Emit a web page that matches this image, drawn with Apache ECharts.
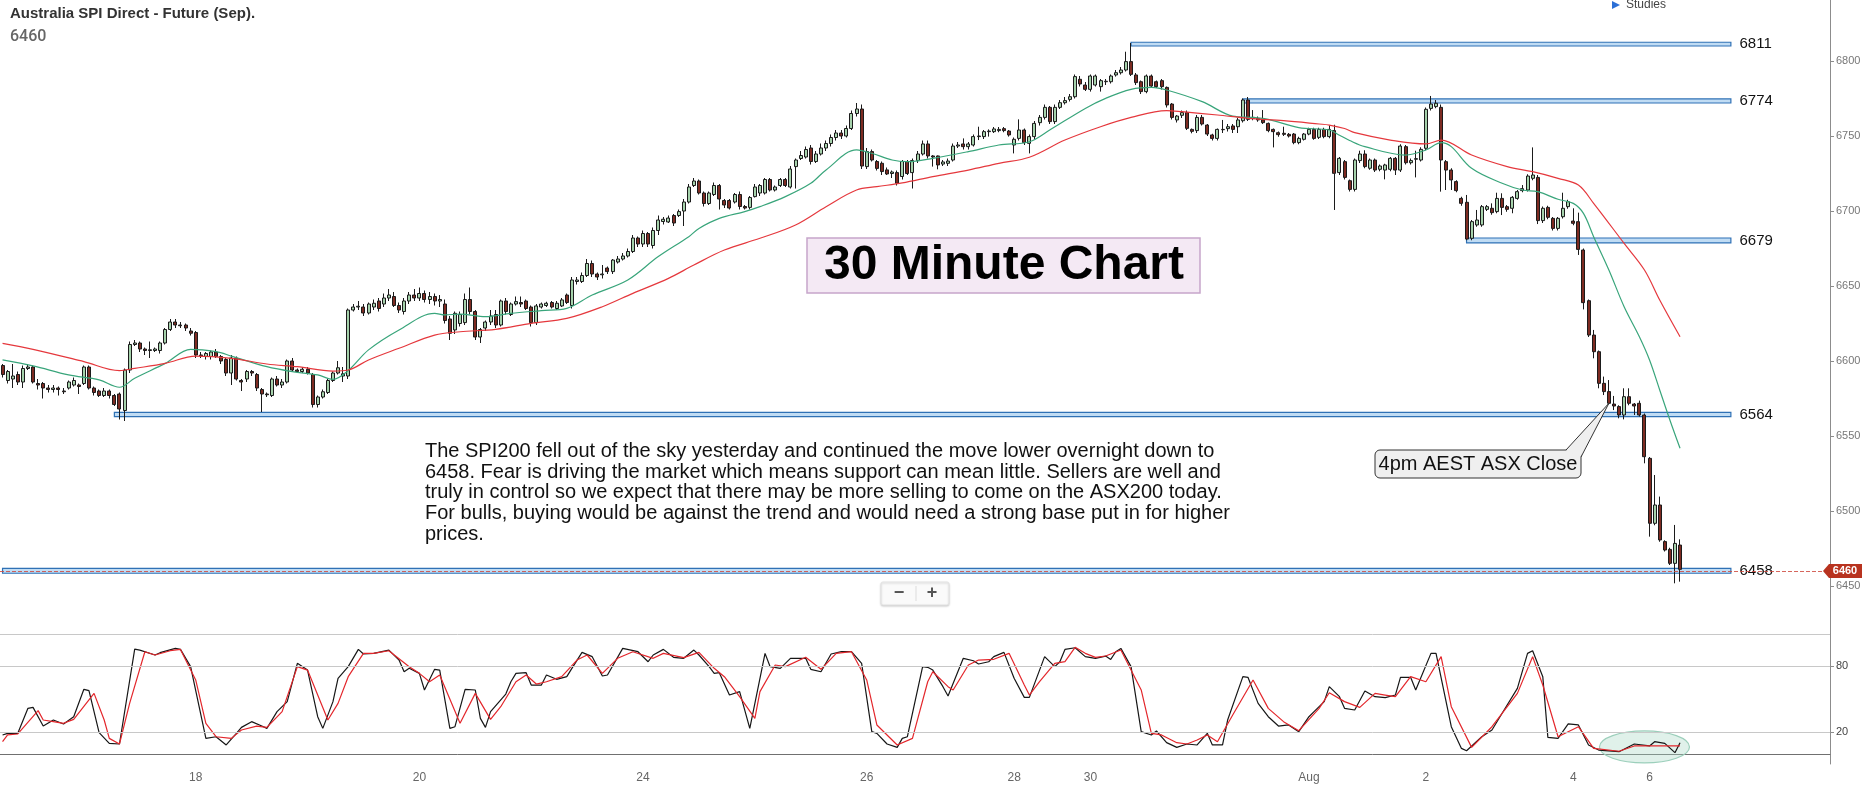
<!DOCTYPE html>
<html>
<head>
<meta charset="utf-8">
<title>Australia SPI Direct - Future (Sep). 30 Minute Chart</title>
<script src="https://cdn.jsdelivr.net/npm/echarts@6/dist/echarts.min.js"></script>
<style>
  html, body { margin: 0; padding: 0; background: #fff; }
  #chart { width: 1875px; height: 793px; }
</style>
</head>
<body>
<div id="chart"></div>
<script>
'use strict'

// 30 minute bars, [open, close, low, high]
const candles = [
  [6597,6591,6589,6598],[6587,6593,6585,6594],[6588,6590,6582,6598],[6591,6586,6584,6593],[6586,6595,6582,6597],
  [6595,6596,6594,6598],[6596,6586,6585,6597],[6585,6584,6581,6588],[6585,6582,6575,6586],[6582,6581,6579,6584],
  [6581,6582,6579,6584],[6582,6581,6577,6583],[6580,6579.5,6578,6582],[6582,6586,6581,6587],[6584,6587,6583,6589],
  [6584,6583,6578,6585],[6585,6596,6584,6597],[6596,6582,6581,6597],[6582,6579,6577,6583],[6580,6577,6576,6581],
  [6577,6580,6576,6582],[6580,6577,6575,6581],[6577,6571,6570,6578],[6578,6568,6561,6579],[6567,6594,6560,6595],
  [6594,6611,6592,6613],[6611,6612,6610,6614],[6612,6608,6606,6613],[6608,6607,6604,6609],[6607,6607.5,6602,6613],
  [6607,6608,6606,6609],[6607,6612,6605,6613],[6612,6621,6611,6622],[6621,6626,6620,6628],[6626,6624,6622,6628],
  [6624,6623.5,6622,6626],[6624,6622,6620,6625],[6620,6618.5,6617,6622],[6619,6604,6602,6620],[6604,6603.5,6602,6606],
  [6603,6605,6601,6606],[6603,6606,6601,6607],[6606,6603,6602,6608],[6603,6600,6598,6604],[6601,6592,6590,6602],
  [6592,6602,6584,6604],[6602,6588,6587,6603],[6587,6586,6580,6588],[6588,6593,6586,6594],[6593,6592,6590,6594],
  [6591,6582,6580,6592],[6581,6578,6566,6582],[6578,6577.5,6576,6579],[6577,6588,6576,6589],[6588,6584,6583,6590],
  [6584,6586,6582,6588],[6586,6600,6585,6601],[6600,6594,6593,6602],[6594,6593,6592,6595],[6593,6594.5,6592,6596],
  [6594.5,6592,6591,6596],[6591,6571,6569,6592],[6571,6576,6569,6577],[6576,6579.5,6575,6581],[6579,6587,6578,6588],
  [6587,6592,6586,6593],[6592,6595.5,6591,6600],[6590,6591.5,6586,6596],[6590,6634,6588,6635],[6634,6636,6633,6638],
  [6636,6636.5,6634,6640],[6636,6632,6630,6638],[6632,6638,6631,6639],[6636,6638.5,6634,6641],[6640,6635,6633,6642],
  [6638,6642,6636,6645],[6642,6644,6640,6648],[6643,6637,6636,6646],[6637,6634,6632,6639],[6633,6640,6631,6642],
  [6640,6644,6638,6646],[6644,6642,6640,6648],[6642,6645,6640,6649],[6645,6641,6639,6647],[6641,6643,6638,6646],
  [6643,6640,6637,6645],[6640,6641,6636,6644],[6638,6627,6625,6641],[6628,6618.5,6614,6630],[6620.7,6631.8,6618,6633],
  [6625,6631,6623,6633],[6625.6,6641,6624,6645],[6641,6633,6631,6649],[6633,6616,6614,6634],[6616,6621,6612,6622],
  [6622,6626,6620,6627],[6626,6630,6624,6634],[6631,6624,6622,6634],[6624,6640,6623,6641],[6640,6633,6631,6642],
  [6631,6638,6630,6639],[6638,6639.6,6637,6643],[6639,6638,6636,6643],[6640,6635,6634,6641],[6636,6625.6,6623,6637],
  [6625.6,6636.7,6624,6638],[6636,6638,6635,6639],[6637,6638.5,6636,6639.5],[6639,6636,6635,6640],[6635,6638.5,6634,6640],
  [6636.7,6640.7,6636,6642],[6644,6639,6638,6645],[6637,6654,6635,6656],[6653,6654,6651,6656],[6653,6657,6652,6659],
  [6657,6665,6656,6668],[6665,6658,6656,6667],[6658,6656,6654,6659],[6657.5,6658,6655,6664],[6662,6659.6,6658,6663],
  [6659.6,6667.3,6658,6668],[6666,6668,6665,6670],[6668,6670,6667,6672],[6670,6673,6669,6675],[6673,6682,6672,6684],
  [6682,6678,6676,6683],[6678,6685,6676,6687],[6685,6678,6676,6686],[6677,6687,6675,6689],[6687,6694,6684,6697],
  [6693,6694.5,6691,6696],[6692.7,6695.3,6692,6697],[6697,6692,6690,6698],[6697,6699.6,6696,6701],[6700,6706,6690,6708],
  [6706,6716,6705,6718],[6717,6720,6716,6722],[6720,6712,6711,6721],[6712,6705,6703,6713],[6705,6712,6704,6713],
  [6711,6717,6710,6719],[6717,6708,6701,6718],[6707,6704,6702,6708],[6707,6702,6701,6708],[6706,6711,6705,6712],
  [6711,6703,6701,6713],[6703,6702,6701,6704],[6702.4,6709,6701,6710],[6709.6,6716,6709,6718],[6712,6717,6710,6718],
  [6712,6721,6711,6722],[6721,6714,6713,6722],[6714,6716,6713,6717],[6717,6721,6716,6722],[6721,6717,6716,6722],
  [6716,6728,6715,6730],[6729.6,6734,6715,6735],[6735,6737,6734,6740],[6736,6741,6735,6743],[6742,6733,6731,6744],
  [6733,6738,6732,6740],[6738,6742,6737,6745],[6742,6745,6740,6747],[6745,6749,6743,6751],[6749,6752,6747,6754],
  [6752,6750,6748,6754],[6750,6755,6749,6757],[6755,6765,6754,6767],[6765,6768,6763,6772],[6768,6730,6728,6771],
  [6729.6,6739.6,6728,6742],[6739.6,6734,6733,6741],[6733,6728.4,6727,6734],[6731.8,6726.3,6724,6733],[6727.4,6724.7,6724,6729],
  [6725,6726,6722,6727],[6725.6,6718.5,6717,6727],[6723,6733,6721,6734],[6733,6725,6724,6734],[6725.6,6733.6,6715,6735],
  [6733.6,6738,6732,6740],[6738,6744.7,6737,6747],[6744.7,6736.7,6735,6747],[6736.7,6736,6729.6,6737.3],[6736.7,6730.7,6727.8,6737],
  [6731.3,6732.7,6730,6734],[6731.8,6733.3,6730,6735],[6734,6743.3,6733,6745],[6743.3,6744,6742,6746],[6744.7,6742.9,6741,6748.4],
  [6742.9,6744.7,6741,6746],[6744,6749.6,6743,6751],[6749.6,6750,6747.3,6756.2],[6749.6,6752.9,6748,6754],[6752.9,6753.3,6749.6,6754.4],
  [6752.9,6754.7,6752,6756],[6753.6,6754.4,6752.5,6756],[6754.9,6753.6,6752.5,6756],[6753.3,6750.7,6749.6,6754],[6744,6747.8,6738.4,6749],
  [6748.4,6754,6747,6761.1],[6754,6745.6,6744,6755],[6745.1,6749.6,6738.4,6751],[6749.6,6758.4,6748,6760],[6758.9,6762.4,6757,6764],
  [6762.4,6769.1,6761,6771],[6769.1,6759.6,6758,6770],[6759.6,6769.1,6758,6771],[6769.1,6772.2,6768,6774],[6772.2,6773.6,6771,6776],
  [6774.4,6776.2,6773,6778],[6776.2,6789.6,6775,6791],[6787.8,6784.7,6783,6790],[6784,6781.1,6780,6786],[6781.1,6790,6779.6,6791],
  [6784,6790,6783,6791],[6782.9,6786.9,6779.6,6788],[6786.2,6786.5,6784,6788],[6786.2,6790,6785,6791],[6790.7,6792.2,6789.6,6794],
  [6792.2,6794,6791,6796],[6794,6799.6,6793,6806.2],[6799.6,6791.1,6790,6812],[6790.7,6785.6,6784,6792],[6786.2,6779.6,6778,6787],
  [6779.6,6790,6778.5,6791],[6790,6783.3,6782,6791],[6786.2,6782.9,6782,6787],[6786.9,6782.9,6781,6788],[6782.4,6770.7,6769,6783],
  [6771.3,6762.4,6761,6772],[6760.7,6763.3,6759,6764],[6763.8,6765.6,6762,6767],[6765.6,6755.1,6754,6767],[6754.4,6753.1,6751.8,6755],
  [6753.6,6762.4,6752,6764],[6762.4,6758,6757,6764],[6757.3,6751.3,6750,6758],[6750.7,6748.4,6747,6751.5],[6748.4,6754.4,6747,6755],
  [6754.4,6754.2,6752,6760.7],[6754.9,6756.2,6753,6758],[6756.7,6754.4,6752,6758],[6756.2,6760.7,6752,6762],[6760.2,6774,6759,6775],
  [6774,6761.1,6760,6776],[6762.4,6761.8,6760.5,6767.3],[6761.8,6760.7,6759.5,6763],[6760.7,6758.9,6758,6767.3],[6758.4,6753.6,6752.5,6759],
  [6754.4,6752.9,6742.4,6755],[6752.2,6750.9,6749.5,6753],[6751.8,6751.1,6750,6756.2],[6751.1,6750,6749,6752],[6751.3,6745.6,6744.5,6752],
  [6745.6,6748.4,6744.5,6749.5],[6747.8,6751.3,6747,6752],[6751.3,6754.4,6750.5,6755.5],[6754.4,6748.4,6747.5,6755.5],[6749.1,6754.4,6748,6755.5],
  [6754.4,6749.6,6748.5,6755.5],[6749.6,6754.4,6748.5,6757],[6753.6,6725.1,6700.7,6757.5],[6725.6,6735.1,6724,6736],[6732.9,6722.4,6721,6734],
  [6720.2,6714.4,6713,6721],[6714.4,6734,6713,6735],[6733.6,6738,6732,6740.2],[6738,6729.6,6728.5,6740.5],[6728.5,6734,6727.5,6735],
  [6734,6727.3,6726,6735],[6727.8,6730,6726.5,6731],[6727.3,6730.7,6721.1,6731.5],[6727.8,6735.1,6726.5,6736],[6735.1,6727.3,6724,6736],
  [6727.3,6743.3,6726,6744.5],[6742.9,6732.2,6731,6744],[6732.2,6733.6,6731,6735],[6734.5,6734.9,6722.4,6740.2],[6734,6741.1,6733,6742.5],
  [6741.8,6767.8,6740.5,6769],[6768.4,6771.3,6767,6776.7],[6769.6,6771.8,6768.5,6774],[6769.1,6734,6712.9,6771],[6732.9,6727.3,6714,6734],
  [6727.3,6720.7,6714,6728.5],[6719.6,6713.6,6712.5,6720.5],[6708.4,6705.1,6703.5,6709.5],[6705.8,6681.3,6680.5,6710.7],[6681.8,6692.9,6680.5,6694],
  [6690.7,6694,6689.5,6700.7],[6690.7,6702.9,6689.5,6704],[6701.1,6702.9,6700,6704],[6701.8,6698.9,6697.5,6705.1],[6699.6,6708.4,6698.5,6712.2],
  [6708.4,6702.4,6697.3,6711.8],[6702.9,6701.1,6699.5,6704],[6701.8,6709.1,6698.5,6710],[6708.4,6712.9,6707.5,6714],[6713.6,6714.9,6712.5,6717.3],
  [6714,6723.3,6713,6724.5],[6721.8,6724,6720.5,6742.4],[6722.4,6693.6,6691.3,6724],[6693.6,6701.8,6692,6703],[6702.4,6695.8,6694.5,6703.5],
  [6695.1,6688.4,6687,6696],[6688.4,6695.1,6687,6696],[6696.2,6701.8,6695,6712.2],[6702.9,6706.2,6701.5,6707.5],[6693.3,6691.8,6690.5,6701.8],
  [6692.9,6674.4,6670.7,6698.9],[6674,6638.9,6634.4,6675],[6640.2,6617.3,6616,6641],[6617.3,6606.2,6601.8,6620.7],[6606.2,6585.1,6581.8,6607],
  [6585.1,6579.6,6577.3,6589.6],[6579.6,6571.8,6571,6587.3],[6571.3,6570,6567.3,6576.7],[6569.6,6564,6561.8,6570.5],[6564,6576.2,6561.1,6581.8],
  [6576.2,6571.8,6570.5,6581.8],[6571.3,6570,6564,6572],[6571.8,6564,6563,6573.6],[6564,6536.2,6531.8,6565],[6535.1,6491.8,6482.9,6536],
  [6491.8,6504,6490.5,6524],[6504,6480.7,6479.5,6509.6],[6479.6,6474,6473,6480.5],[6474.4,6465.1,6464,6475.5],[6465.1,6478.4,6451.8,6490.7],
  [6477.3,6461.1,6452.9,6481.1]
];

// moving averages read at sampled bars, [bar index, value]
const maFast = [
  [0,6600.7],[6,6596.7],[13,6590.7],[19,6587.4],[23,6582.5],[26,6588.5],[32,6598.4],[37,6607.8],[42,6606.2],[45,6603.3],
  [52,6596.2],[57,6592.9],[62,6590.7],[65,6587.8],[68,6593.6],[72,6607.4],[78,6620.7],[85,6631.8],[87,6630.7],[90,6631.3],
  [95,6629.6],[100,6631.8],[106,6633.6],[111,6635.1],[116,6644],[123,6654],[129,6669.6],[135,6682.9],[137,6688.4],[141,6695.1],
  [146,6699.6],[149,6702.9],[154,6709.6],[159,6718.5],[162,6727.4],[168,6740.7],[171,6738.5],[175,6734],[178,6732.9],[183,6735.1],
  [190,6739.6],[196,6744],[202,6746.2],[206,6754],[213,6768.4],[217,6775.1],[222,6781.1],[226,6782.4],[229,6780.7],[236,6772.9],
  [242,6763.3],[246,6762.4],[249,6761.1],[255,6755.6],[261,6754],[263,6750.5],[265,6747],[268,6742.9],[276,6737.3],[280,6740.7],
  [283,6745.6],[285,6742.9],[289,6728.5],[295,6718.5],[299,6714],[302,6712.9],[306,6707.8],[309,6705.1],[311,6698.4],[313,6682.9],
  [316,6660.7],[319,6636.2],[322,6616.2],[324,6600.7],[326,6580.7],[328,6560.7],[330,6541.8]
];
const maSlow = [
  [0,6611.8],[6,6607.8],[16,6599.6],[23,6593.6],[26,6595.1],[32,6598.4],[38,6603.3],[45,6601.8],[52,6598],[58,6596.2],
  [65,6593.3],[68,6594],[72,6600.7],[78,6608.5],[85,6617.3],[90,6619.5],[97,6621.1],[104,6625.1],[111,6628.4],[118,6636.2],
  [124,6645.1],[131,6655.1],[136,6664],[142,6674],[149,6681.8],[156,6690.7],[162,6702.9],[168,6714],[172,6716.2],[177,6718.7],
  [183,6722.9],[190,6727.3],[196,6731.8],[202,6735.8],[209,6747.3],[216,6756.2],[222,6762.4],[229,6766.9],[232,6766.2],[239,6764],
  [245,6761.8],[252,6760.2],[259,6758],[261,6757.3],[264,6755],[266,6752.2],[273,6747.3],[280,6744.7],[283,6747.3],[289,6737.3],
  [296,6729.6],[301,6726.2],[306,6721.8],[310,6717.3],[313,6705.1],[319,6678.4],[323,6660.7],[326,6640.7],[330,6616.2]
];

// stochastic %K and %D, [bar index, value]
const stochK = [
  [0,17.3],[1,18.8],[3,18.8],[5,41.5],[6,42.4],[8,25.4],[10,30.9],[12,27.3],[14,33.9],[16,58.8],[17,57.6],[19,19.4],[21,9.7],
  [23,9.1],[26,95.4],[27,94.5],[30,90],[31,92.1],[34,96],[35,95.1],[37,79.4],[40,14.2],[42,15.7],[44,8.2],[46,18.8],[47,24.2],
  [49,29.4],[51,25.4],[52,23.3],[54,38.5],[56,47.6],[58,82.4],[60,76.3],[62,33.9],[63,23.3],[65,47.6],[66,68.8],[68,79.4],
  [70,95.1],[71,90.9],[73,91.5],[76,94.5],[78,85.4],[79,74.8],[80,77.9],[82,73.3],[83,58.2],[85,77],[86,76.3],[88,23.3],
  [89,24.8],[91,58.8],[93,58.2],[94,32.4],[95,24.2],[96,38.5],[99,54.5],[100,65.7],[101,73.3],[103,73.9],[104,62.7],[106,62.7],
  [107,71.8],[109,67.9],[111,70.3],[112,77.9],[114,92.4],[116,88.5],[118,70.9],[119,71.8],[122,96],[125,93],[127,83.9],[128,90],
  [130,95.1],[132,87.9],[134,87],[136,94.5],[137,90],[139,79.4],[140,73.3],[141,73.9],[143,53.6],[145,56.7],[147,23.3],[150,91.5],
  [151,79.4],[153,77.9],[155,87],[158,87],[159,77],[161,74.8],[163,90.9],[165,93],[167,93],[169,82.4],[171,20.3],[172,18.8],
  [174,9.1],[176,6],[177,14.2],[178,15.7],[181,79.4],[182,78.8],[183,76.3],[185,61.2],[186,52.7],[189,87],[191,84.8],[192,81.8],
  [194,83.9],[195,88.5],[197,92.4],[199,68.8],[201,51.5],[202,51.5],[205,88.5],[207,79.4],[208,83.9],[209,95.1],[211,96.6],[213,88.5],
  [215,87],[217,89],[218,86],[219,93],[220,96],[222,79.4],[224,20.3],[226,17.3],[227,20.9],[229,10.3],[231,6],[233,9.1],
  [235,8.2],[237,18.8],[238,8.2],[240,8.2],[241,30.9],[244,70.3],[245,69.7],[247,46],[249,33.9],[251,25.4],[253,26.4],[255,20.3],
  [257,33.9],[258,38.5],[260,47.6],[261,61.2],[263,52.1],[264,41.5],[266,40],[268,57.3],[270,52.1],[272,51.2],[274,53.6],[275,69.7],
  [277,69.7],[278,58.2],[281,91.5],[282,91.5],[285,24.8],[287,5.1],[288,3],[291,15.7],[293,21.8],[295,37],[298,59.7],[300,91.5],
  [301,93.9],[303,70.3],[304,15.1],[306,14.2],[308,27.3],[310,26.4],[312,8.2],[314,3.6],[318,2.1],[321,9.1],[324,7.3],[325,11.2],
  [327,9.7],[329,1.2],[330,10.3]
];
const stochD = [
  [0,11.2],[1,17.3],[3,18.2],[7,39.4],[8,30.9],[10,29.4],[12,27.9],[14,31.5],[18,55.1],[20,30.9],[21,14.2],[23,9.1],[25,46],
  [28,93],[30,90],[33,93.9],[35,95.1],[38,67.3],[40,27.9],[42,15.7],[45,14.2],[47,21.8],[50,25.4],[52,24.2],[55,38.5],[58,79.4],
  [60,76.3],[64,30.9],[66,46],[68,70.3],[71,91.5],[73,91.5],[76,93.9],[80,79.4],[82,73.3],[84,65.7],[86,71.8],[90,27.9],
  [93,55.1],[96,31.5],[98,43],[101,65.7],[103,71.8],[105,63.6],[107,65.7],[110,70.3],[113,85.4],[115,90],[118,73.3],[121,87],
  [124,93],[128,87],[130,91.5],[134,87.6],[137,92.4],[140,77.9],[142,70.3],[145,52.1],[148,32.4],[149,56.7],[152,80.9],[154,79.4],
  [158,87.9],[161,77],[164,91.5],[167,93],[170,67.3],[172,26.4],[176,8.2],[179,14.2],[182,65.7],[183,74.8],[186,61.2],[187,58.2],
  [190,80.9],[192,85.4],[195,86.1],[198,91.5],[201,62.7],[202,53.6],[204,65.7],[207,82.4],[209,83.9],[211,97],[213,91.5],[215,87.9],
  [217,89.1],[220,94.5],[224,58.2],[226,18.8],[228,17.3],[231,10.3],[233,9.1],[235,12.7],[237,17.3],[239,11.2],[242,35.4],[246,67.3],
  [249,41.5],[252,29.4],[255,21.2],[259,41.5],[261,55.7],[264,47.6],[267,42.4],[270,55.1],[272,53.6],[274,52.1],[277,70.3],[280,65.7],
  [283,88.5],[285,43],[289,6],[293,24.8],[298,55.1],[301,88.5],[303,62.7],[306,15.7],[310,24.8],[313,5.1],[318,2.5],[321,7.3],
  [325,7.3],[330,7.3]
];

// x axis: one slot per 30 minute bar (plus empty space on the right)
const categories = Array.from({length: 360}, (v, i) => String(i));
const dayTickIdx = [38, 82, 126, 170, 199, 214, 257, 280, 309, 324];
const dayTickText = ['18', '20', '24', '26', '28', '30', 'Aug', '2', '4', '6'];
const priceTicks = [6450, 6500, 6550, 6600, 6650, 6700, 6750, 6800];
const stochTicks = [20, 80];

// support / resistance levels: label, band low, band high, first bar
const levelNames = ['6811', '6774', '6679', '6564', '6458'];
const levelLow = [6810, 6772, 6678.7, 6562.9, 6458.5];
const levelHigh = [6812.5, 6774.7, 6682, 6565.8, 6461.8];
const levelStart = [222, 244, 288, 22, 0];
const levelEnd = 340;

const lastPrice = 6460;
const asxCloseBar = 316;
const circledBar = 323, circledValue = 6.4;

const titleText = 'Australia SPI Direct - Future (Sep).';
const noteLines = [
  'The SPI200 fell out of the sky yesterday and continued the move lower overnight down to',
  '6458. Fear is driving the market which means support can mean little. Sellers are well and',
  'truly in control so we expect that there may be more selling to come on the ASX200 today.',
  'For bulls, buying would be against the trend and would need a strong base put in for higher',
  'prices.'
];

const FONT = "'Liberation Sans', Arial, sans-serif";
const NARROW = "'Liberation Sans Narrow', 'Arial Narrow', 'Liberation Sans', sans-serif";
const isDayTick = (idx) => dayTickIdx.indexOf(idx) >= 0;

let chart = echarts.init(document.getElementById('chart'));

let option = {
  animation: false,
  backgroundColor: '#ffffff',
  textStyle: {fontFamily: FONT},
  grid: [
    {left: 0, right: 45, top: 0, height: 634},
    {left: 0, right: 45, top: 634, height: 130}
  ],
  xAxis: [
    {type: 'category', gridIndex: 0, data: categories, boundaryGap: true, show: false},
    {
      type: 'category', gridIndex: 1, data: categories, boundaryGap: true,
      axisLine: {lineStyle: {color: '#707070'}},
      axisTick: {alignWithLabel: true, interval: isDayTick, length: 5, lineStyle: {color: '#707070'}},
      axisLabel: {
        interval: isDayTick, color: '#666', fontSize: 12, margin: 8,
        formatter: (v, idx) => dayTickText[dayTickIdx.indexOf(idx)] || ''
      },
      splitLine: {show: false}
    }
  ],
  yAxis: [
    {
      type: 'value', gridIndex: 0, position: 'right', min: 6418, max: 6840.67,
      axisLine: {show: true, lineStyle: {color: '#8c8c8c'}},
      axisTick: {show: true, length: 4, customValues: priceTicks, lineStyle: {color: '#8c8c8c'}},
      axisLabel: {customValues: priceTicks, color: '#777', fontSize: 11, margin: 6, formatter: (v) => String(v)},
      splitLine: {show: false}
    },
    {
      type: 'value', gridIndex: 1, position: 'right', min: -9.1, max: 109.1,
      axisLine: {show: true, lineStyle: {color: '#8c8c8c'}},
      axisTick: {show: true, length: 4, customValues: stochTicks, lineStyle: {color: '#8c8c8c'}},
      axisLabel: {customValues: stochTicks, color: '#444', fontSize: 11, margin: 6, formatter: (v) => String(v)},
      splitLine: {show: false}
    }
  ],
  series: [
    {
      name: 'SPI', type: 'candlestick', xAxisIndex: 0, yAxisIndex: 0,
      data: candles, barWidth: 3.5, z: 2,
      itemStyle: {
        color: '#a6d2ac', color0: '#7d2b22',
        borderColor: '#1b1b1b', borderColor0: '#1b1b1b', borderWidth: 1
      },
      markArea: {
        silent: true,
        itemStyle: {color: 'rgba(150,196,236,0.6)', borderColor: '#2f71b5', borderWidth: 1.2},
        label: {show: true, position: 'right', distance: 8, color: '#111', fontSize: 15, fontFamily: NARROW},
        data: levelNames.map((n, k) => [
          {name: n, coord: [levelStart[k], levelLow[k]]},
          {coord: [levelEnd, levelHigh[k]]}
        ])
      }
    },
    {
      name: 'MA fast', type: 'line', xAxisIndex: 0, yAxisIndex: 0, data: maFast,
      smooth: 0.35, showSymbol: false, z: 3,
      lineStyle: {color: '#39a57b', width: 1.2}
    },
    {
      name: 'MA slow', type: 'line', xAxisIndex: 0, yAxisIndex: 0, data: maSlow,
      smooth: 0.35, showSymbol: false, z: 3, clip: false,
      lineStyle: {color: '#e5383d', width: 1.2},
      markLine: {
        silent: true, symbol: ['none', 'none'],
        label: {show: false},
        lineStyle: {color: '#cf4b3f', type: 'dashed', width: 1, opacity: 0.85},
        data: [{yAxis: lastPrice}]
      }
    },
    {
      name: '%K', type: 'line', xAxisIndex: 1, yAxisIndex: 1, data: stochK,
      showSymbol: false, z: 3,
      lineStyle: {color: '#161616', width: 1.2},
      markLine: {
        silent: true, symbol: ['none', 'none'],
        label: {show: false},
        lineStyle: {color: '#c8c8c8', type: 'solid', width: 1},
        data: [{yAxis: 20}, {yAxis: 80}, {yAxis: 109.1}]
      }
    },
    {
      name: '%D', type: 'line', xAxisIndex: 1, yAxisIndex: 1, data: stochD,
      showSymbol: false, z: 4,
      lineStyle: {color: '#e3262b', width: 1.2}
    }
  ]
};

chart.setOption(option);

// annotations placed from the chart's own scales
let tip = chart.convertToPixel({xAxisIndex: 0, yAxisIndex: 0}, [asxCloseBar, candles[asxCloseBar][1]]);
let ring = chart.convertToPixel({xAxisIndex: 1, yAxisIndex: 1}, [circledBar, circledValue]);
let tagY = chart.convertToPixel({yAxisIndex: 0}, lastPrice);

chart.setOption({
  graphic: {elements: [
    {type: 'text', left: 10, top: 6, style: {text: titleText, font: 'bold 15px ' + NARROW, fill: '#333'}},
    {type: 'text', left: 10, top: 29, style: {text: String(lastPrice), font: '500 16px Roboto, ' + FONT, fill: '#666'}},
    {type: 'polygon', shape: {points: [[1612, 1], [1612, 9], [1620, 5]]}, style: {fill: '#2b6fd6'}},
    {type: 'text', x: 1626, y: 5, style: {text: 'Studies', font: '12px ' + FONT, fill: '#444', verticalAlign: 'middle'}},
    {
      type: 'rect', shape: {x: 807, y: 238, width: 393, height: 55},
      style: {fill: '#f4e9f4', stroke: '#c6a5ca', lineWidth: 1.5}, z: 10
    },
    {
      type: 'text', x: 1004, y: 266, z: 11,
      style: {text: '30 Minute Chart', font: 'bold 48px ' + FONT, fill: '#000', align: 'center', verticalAlign: 'middle'}
    },
    {
      type: 'text', x: 425, y: 441, z: 11,
      style: {text: noteLines.join('\n'), font: '20px ' + FONT, lineHeight: 20.7, fill: '#111'}
    },
    {
      type: 'rect', shape: {x: 1375, y: 450, width: 206, height: 28, r: 5},
      style: {fill: '#efefef', stroke: '#333', lineWidth: 1}, z: 10
    },
    {type: 'polygon', shape: {points: [[1566, 450.5], tip, [1580.5, 457]]}, style: {fill: '#efefef'}, z: 11},
    {type: 'polyline', shape: {points: [[1566, 450], tip, [1581, 457]]}, style: {stroke: '#333', lineWidth: 1, fill: null}, z: 11},
    {
      type: 'text', x: 1478, y: 464, z: 12,
      style: {text: '4pm AEST ASX Close', font: '20px ' + FONT, fill: '#111', align: 'center', verticalAlign: 'middle'}
    },
    {
      type: 'rect', shape: {x: 881, y: 582, width: 68, height: 23, r: 2},
      style: {fill: '#fafafa', stroke: '#e4e4e4', shadowColor: 'rgba(0,0,0,0.18)', shadowBlur: 2, shadowOffsetY: 1}, z: 10
    },
    {type: 'line', shape: {x1: 916, y1: 586, x2: 916, y2: 601}, style: {stroke: '#dcdcdc'}, z: 11},
    {type: 'text', x: 899, y: 593, z: 11, style: {text: '\u2212', font: 'bold 18px ' + FONT, fill: '#555', align: 'center', verticalAlign: 'middle'}},
    {type: 'text', x: 932, y: 593, z: 11, style: {text: '+', font: 'bold 18px ' + FONT, fill: '#555', align: 'center', verticalAlign: 'middle'}},
    {
      type: 'ellipse', shape: {cx: ring[0], cy: ring[1], rx: 45, ry: 16},
      style: {fill: 'rgba(165,214,194,0.35)', stroke: '#9ccfbb', lineWidth: 1.2}, z: 1
    },
    {
      type: 'polygon', z: 12,
      shape: {points: [[1823, tagY], [1829, tagY - 7], [1862, tagY - 7], [1862, tagY + 7], [1829, tagY + 7]]},
      style: {fill: '#b8331f'}
    },
    {
      type: 'text', x: 1845, y: tagY, z: 13,
      style: {text: String(lastPrice), font: 'bold 11px ' + FONT, fill: '#fff', align: 'center', verticalAlign: 'middle'}
    }
  ]}
});
</script>
</body>
</html>
